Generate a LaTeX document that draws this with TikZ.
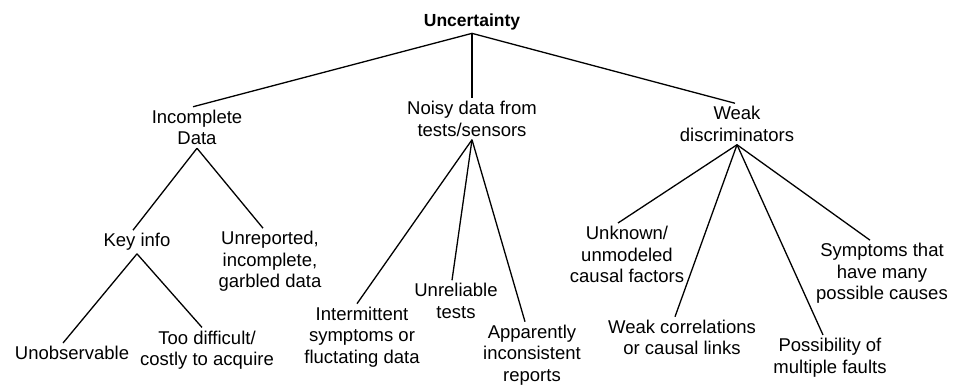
\documentclass[tikz,border=0pt]{standalone}
\usepackage{fontspec}
\setmainfont{Liberation Sans}
\usetikzlibrary{positioning}
\tikzset{
  lbl/.style={align=center, inner sep=3pt, font=\fontsize{18.5}{21.5}\selectfont},
  twig/.style={line width=1.3pt}
}
\begin{document}
\begin{tikzpicture}[x=1pt, y=-1pt]
    \useasboundingbox (0,0) rectangle (953,385);

    % Root
    \node[lbl, font=\fontsize{17.5}{21}\selectfont\bfseries] (unc) at (472,22) {Uncertainty};

    % First level
    \node[lbl] (inc)   at (197,127.5) {Incomplete\\Data};
    \node[lbl] (noisy) at (472,119)   {Noisy data from\\tests/sensors};
    \node[lbl] (weak)  at (737,124)   {Weak\\discriminators};

    % Incomplete data
    \node[lbl] (key)     at (137,242)   {Key info};
    \node[lbl] (unrep)   at (270,261.5) {Unreported,\\incomplete,\\garbled data};
    \node[lbl] (unobs)   at (72,353)    {Unobservable};
    \node[lbl] (toodiff) at (207,350)   {Too difficult/\\costly to acquire};

    % Noisy data
    \node[lbl] (interm) at (362,337) {Intermittent\\symptoms or\\fluctating data};
    \node[lbl] (unrel)  at (456,301) {Unreliable\\tests};
    \node[lbl] (appar)  at (532,355) {Apparently\\inconsistent\\reports};

    % Weak discriminators
    \node[lbl] (unknown)  at (627,254.5) {Unknown/\\unmodeled\\causal factors};
    \node[lbl] (weakcorr) at (682,337.5) {Weak correlations\\or causal links};
    \node[lbl] (possib)   at (830,357.5) {Possibility of\\multiple faults};
    \node[lbl] (sympt)    at (882,273.5) {Symptoms that\\have many\\possible causes};

    % Branches
    \foreach \p/\c/\dx in {unc/inc/-4, unc/noisy/0, unc/weak/-2,
                           inc/key/-4, inc/unrep/-7, key/unobs/-9, key/toodiff/-5,
                           noisy/interm/-5, noisy/unrel/-4, noisy/appar/-7,
                           weak/unknown/-9, weak/weakcorr/-7, weak/possib/-7, weak/sympt/-12} {
        \draw[twig] (\p.south) -- ([xshift=\dx]\c.north);
    }
\end{tikzpicture}
\end{document}
